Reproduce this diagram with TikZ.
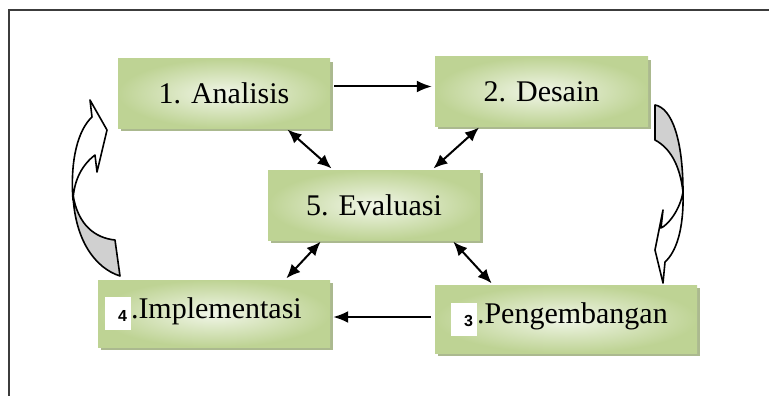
\documentclass[tikz,border=0pt]{standalone}
\usepackage{fontspec}
\setmainfont{Liberation Serif}
\newfontfamily\numfont{Liberation Sans}
\usetikzlibrary{arrows.meta,shadows}

\definecolor{boxdark}{RGB}{190,211,148}
\definecolor{boxlight}{RGB}{241,246,232}
\definecolor{boxshadow}{RGB}{150,168,115}
\definecolor{backside}{RGB}{208,208,208}
\definecolor{framegray}{RGB}{60,60,60}

% white label box for the step number
\newcommand{\numbox}[1]{{\fboxsep=0pt\colorbox{white}{\rule[-12pt]{0pt}{33pt}\makebox[26pt][r]{\raisebox{-3pt}{\numfont\bfseries\fontsize{16}{18}\selectfont #1}\hspace{4pt}}}}}

\begin{document}
\begin{tikzpicture}[x=1pt,y=-1pt,
    stage/.style={inner color=boxlight, outer color=boxdark, inner sep=0pt,
      drop shadow={shadow xshift=3pt, shadow yshift=-3pt, fill=boxshadow, opacity=.8},
      font=\fontsize{30}{36}\selectfont},
    flow/.style={-{Latex[length=15pt,width=12pt]}, line width=2pt, shorten <=4pt, shorten >=3pt},
    both/.style={{Latex[length=14pt,width=12pt]}-{Latex[length=14pt,width=12pt]}, line width=2pt, shorten <=2pt, shorten >=2pt},
    turnarrow/.style={draw=black, line width=1.6pt, line join=round}]
    \useasboundingbox (0,0) rectangle (769,396);
    \draw[framegray, line width=2.5pt] (9,396) -- (9,10) -- (769,10);
    % stages
    \node[stage, minimum width=212pt, minimum height=69pt] at (224,93.5) (ana) {1. Analisis};
    \node[stage, minimum width=213pt, minimum height=69pt] at (541.5,91.5) (des) {2. Desain};
    \node[stage, minimum width=212pt, minimum height=70pt] at (374,205) (eva) {5. Evaluasi};
    \node[stage, minimum width=232pt, minimum height=67pt, text width=218pt, align=left] at (214,313.5) (imp) {\numbox{4}.Implementasi};
    \node[stage, minimum width=262pt, minimum height=68pt, text width=230pt, align=left] at (566,319) (pen) {\numbox{3}.Pengembangan};
    % main flow
    \draw[flow] ([yshift=7pt]ana.east) -- ([yshift=5pt]des.west);
    \draw[flow] ([yshift=2pt]pen.west) -- ([yshift=-3.5pt]imp.east);
    % links with evaluation
    \draw[both] ([xshift=62pt]ana.south) -- ([xshift=-41pt]eva.north);
    \draw[both] ([xshift=-61pt]des.south) -- ([xshift=58pt]eva.north);
    \draw[both] ([xshift=-52pt]eva.south) -- ([xshift=71pt]imp.north);
    \draw[both] ([xshift=78pt]eva.south) -- ([xshift=-73pt]pen.north);
    % left turn arrow
    \filldraw[turnarrow, fill=backside] (73,195) .. controls (78,225) and (95,238) .. (115,240) -- (120,276) .. controls (95,268) and (75,240) .. (73,195) -- cycle;
    \filldraw[turnarrow, fill=white] (73,200) .. controls (70,160) and (78,130) .. (92,117) -- (90,100) -- (107,130) -- (97,172) -- (95,155) .. controls (82,165) and (74,180) .. (73,200) -- cycle;
    % right turn arrow
    \filldraw[turnarrow, fill=backside] (655,105) .. controls (672,108) and (683,140) .. (683,192) .. controls (680,165) and (670,148) .. (655,140) -- cycle;
    \filldraw[turnarrow, fill=white] (683,192) .. controls (684,230) and (676,252) .. (665,262) -- (663,283) -- (655,250) -- (663,210) -- (661,228) .. controls (668,225) and (680,210) .. (683,192) -- cycle;
\end{tikzpicture}
\end{document}
